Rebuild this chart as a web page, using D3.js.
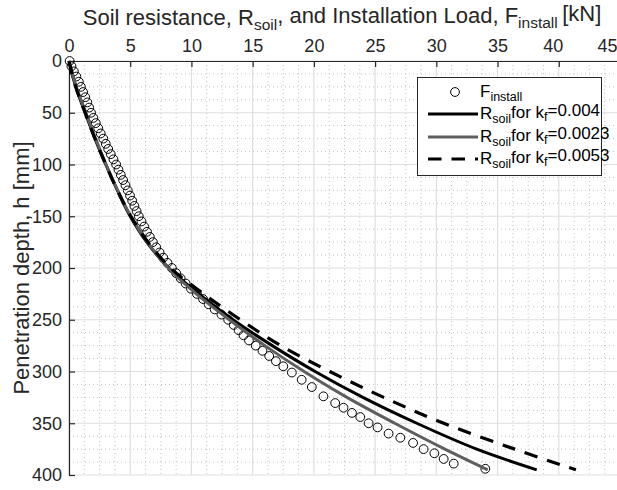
<!DOCTYPE html>
<html><head><meta charset="utf-8">
<script src="https://cdn.jsdelivr.net/npm/d3@7"></script>
<style>
html,body{margin:0;padding:0;background:#fff;}
svg{display:block;font-family:"Liberation Sans",Arial,sans-serif;}
</style></head>
<body><svg id="c" width="617" height="490"></svg>
<script>
// ---- data ----
const xTicks = [0,5,10,15,20,25,30,35,40,45];
const yTicks = [0,50,100,150,200,250,300,350,400];

// F_install measurements: depth h [mm], load [kN]
const installDepth = [0,5,10,15,20,25,30,35,40,45,50,55,60,65,70,75,80,85,90,95,100,105,110,115,120,125,130,135,140,145,150,155,160,165,170,175,180,185,190,195,200,205,210,215,220,225,230,235,240,245,250,255,260,265,270,275,280,285,290,295,301,308,315,324,330.5,335,340,344,350,354,360,364,369,375,379,384.5,389,394];
const installLoad  = [0.05,0.2,0.4,0.6,0.8,0.97,1.15,1.33,1.5,1.65,1.8,1.99,2.19,2.39,2.59,2.8,3.0,3.2,3.41,3.63,3.85,4.04,4.23,4.42,4.61,4.8,4.98,5.16,5.34,5.52,5.7,5.92,6.14,6.37,6.6,6.85,7.12,7.4,7.7,8.04,8.4,8.75,9.12,9.53,9.96,10.45,10.95,11.4,11.9,12.45,13.0,13.45,13.85,14.25,14.7,15.25,15.8,16.35,16.9,17.5,18.2,19.0,19.83,20.78,21.74,22.42,23.11,23.79,24.47,25.2,26.1,27.06,28.1,28.96,29.84,30.6,31.42,34.0];

// R_soil model curves
const curveDepth = [0,25,50,75,100,125,150,175,200,225,250,275,300,325,350,375,395];
const rSoil004  = [0,0.55,1.32,2.12,3.0,3.95,5.0,6.35,8.15,10.6,13.4,16.6,20.1,24.0,28.4,33.3,38.2];
const rSoil0023 = [0,0.6,1.37,2.17,3.03,3.98,5.05,6.4,8.1,10.4,13.1,16.0,19.2,22.7,26.6,30.7,34.2];
const rSoil0053 = [0,0.55,1.32,2.12,3.0,3.95,5.05,6.45,8.3,11.0,14.0,17.3,21.3,25.7,30.6,36.4,41.4];

const legendLabels = [
  {main:"F", sub:"install", rest:""},
  {main:"R", sub:"soil", rest:"for k", sub2:"f", rest2:"=0.004"},
  {main:"R", sub:"soil", rest:"for k", sub2:"f", rest2:"=0.0023"},
  {main:"R", sub:"soil", rest:"for k", sub2:"f", rest2:"=0.0053"}
];

// ---- layout ----
const svg = d3.select("#c");
const L = 69, T = 61, R = 620, B = 475;
const x = d3.scaleLinear().domain([0,45]).range([L,R]);
const y = d3.scaleLinear().domain([0,400]).range([T,B]);
const axisColor = "#262626";

// grid
const g = svg.append("g");
const minorX = [], minorY = [];
for (let i=0;i<xTicks.length-1;i++) for (let j=1;j<4;j++) minorX.push(xTicks[i]+(xTicks[i+1]-xTicks[i])*j/4);
for (let i=0;i<yTicks.length-1;i++) for (let j=1;j<4;j++) minorY.push(yTicks[i]+(yTicks[i+1]-yTicks[i])*j/4);
g.selectAll(".mx").data(minorX).join("line")
  .attr("x1",d=>x(d)).attr("x2",d=>x(d)).attr("y1",T).attr("y2",B)
  .attr("stroke","#c4c4c4").attr("stroke-width",1).attr("stroke-dasharray","1,3");
g.selectAll(".my").data(minorY).join("line")
  .attr("y1",d=>y(d)).attr("y2",d=>y(d)).attr("x1",L).attr("x2",R)
  .attr("stroke","#c4c4c4").attr("stroke-width",1).attr("stroke-dasharray","1,3");
g.selectAll(".gx").data(xTicks).join("line")
  .attr("x1",d=>x(d)).attr("x2",d=>x(d)).attr("y1",T).attr("y2",B)
  .attr("stroke","#dfdfdf").attr("stroke-width",1.2);
g.selectAll(".gy").data(yTicks).join("line")
  .attr("y1",d=>y(d)).attr("y2",d=>y(d)).attr("x1",L).attr("x2",R)
  .attr("stroke","#dfdfdf").attr("stroke-width",1.2);

// axes
const ax = svg.append("g").attr("transform",`translate(0,${T})`)
  .call(d3.axisTop(x).tickValues(xTicks).tickSize(-6).tickPadding(9).tickSizeOuter(0));
const ay = svg.append("g").attr("transform",`translate(${L},0)`)
  .call(d3.axisLeft(y).tickValues(yTicks).tickSize(-6).tickPadding(7).tickSizeOuter(0));
[ax,ay].forEach(a=>{
  a.selectAll("path").attr("stroke",axisColor).attr("stroke-width",1.2);
  a.selectAll("line").attr("stroke",axisColor).attr("stroke-width",1.2);
  a.selectAll("text").attr("fill",axisColor).style("font-size","18px").style("font-family","Liberation Sans, Arial, sans-serif");
});
// keep the last top labels inside the window, as in the reference
ax.selectAll(".tick text").filter(d=>d===40).attr("dx",-6);
ax.selectAll(".tick text").filter(d=>d===45).attr("text-anchor","end").attr("dx",7);
ax.selectAll(".tick").filter(d=>d===45).select("text").attr("x",-3).attr("dx",0)
  .attr("transform",null);

// data marks
const plot = svg.append("g");
const pts = installDepth.map((h,i)=>({h, v:installLoad[i]}));
plot.selectAll("circle.f").data(pts).join("circle")
  .attr("cx",d=>x(d.v)).attr("cy",d=>y(d.h)).attr("r",4.4)
  .attr("fill","none").attr("stroke","#000").attr("stroke-width",1);

const line = d3.line().x(d=>x(d.v)).y(d=>y(d.h)).curve(d3.curveCatmullRom);
const mk = arr => curveDepth.map((h,i)=>({h, v:arr[i]}));
plot.append("path").datum(mk(rSoil004)).attr("d",line)
  .attr("fill","none").attr("stroke","#000").attr("stroke-width",3);
plot.append("path").datum(mk(rSoil0023)).attr("d",line)
  .attr("fill","none").attr("stroke","#5e5e5e").attr("stroke-width",3);
plot.append("path").datum(mk(rSoil0053)).attr("d",line)
  .attr("fill","none").attr("stroke","#000").attr("stroke-width",3.2).attr("stroke-dasharray","13.5,10");

// title
const title = svg.append("text").attr("x",342).attr("y",25).attr("text-anchor","middle")
  .attr("fill",axisColor).style("font-size","22px");
title.append("tspan").text("Soil resistance, R");
title.append("tspan").attr("dy","0.3em").style("font-size","15.5px").text("soil");
title.append("tspan").attr("dy","-0.3em").text(", and Installation Load, F");
title.append("tspan").attr("dy","0.3em").style("font-size","15.5px").text("install");
title.append("tspan").attr("dy","-0.3em").text("\u2009[kN]");

// y label
svg.append("text").attr("transform",`translate(29,${(T+B)/2}) rotate(-90)`)
  .attr("text-anchor","middle").attr("fill",axisColor).style("font-size","22px")
  .text("Penetration depth, h [mm]");

// legend
const lg = svg.append("g");
lg.append("rect").attr("x",417.5).attr("y",77.5).attr("width",184).attr("height",98)
  .attr("fill","#fff").attr("stroke","#262626").attr("stroke-width",1);
const rowY = [92,114,137,159];
lg.append("circle").attr("cx",455).attr("cy",rowY[0]).attr("r",4.4)
  .attr("fill","none").attr("stroke","#000").attr("stroke-width",1);
const lstyles = [
  {c:"#000",w:3,da:null},
  {c:"#5e5e5e",w:3,da:null},
  {c:"#000",w:3.2,da:"13.5,10"}
];
lstyles.forEach((s,i)=>{
  const ln = lg.append("line").attr("x1",428).attr("x2",478).attr("y1",rowY[i+1]).attr("y2",rowY[i+1])
    .attr("stroke",s.c).attr("stroke-width",s.w);
  if (s.da) ln.attr("stroke-dasharray",s.da);
});
legendLabels.forEach((lb,i)=>{
  const t = lg.append("text").attr("x",480).attr("y",rowY[i]+5).attr("fill","#000").style("font-size","17px");
  t.append("tspan").text(lb.main);
  t.append("tspan").attr("dy","0.3em").style("font-size","12.5px").text(lb.sub);
  if (lb.rest) {
    t.append("tspan").attr("dy","-0.3em").text(lb.rest);
    t.append("tspan").attr("dy","0.3em").style("font-size","12.5px").text(lb.sub2);
    t.append("tspan").attr("dy","-0.3em").text(lb.rest2);
  }
});
</script></body></html>
